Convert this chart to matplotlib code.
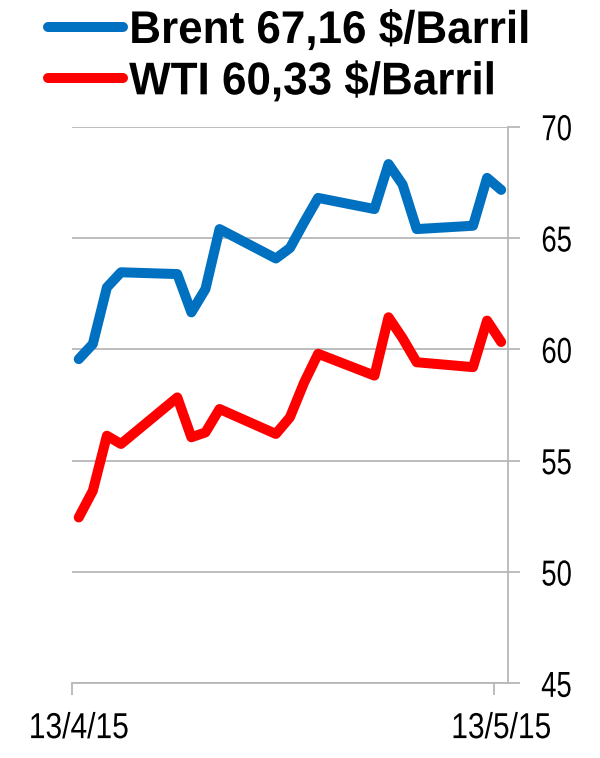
import numpy as np
import matplotlib
matplotlib.use('Agg')
import matplotlib.pyplot as plt
import matplotlib.dates as mdates
from matplotlib import patheffects
from matplotlib.transforms import Affine2D

# daily closes, 13/4/15 .. 13/5/15 (only the days that show as vertices)
dates = ['2015-04-13', '2015-04-14', '2015-04-15', '2015-04-16', '2015-04-20',
         '2015-04-21', '2015-04-22', '2015-04-23', '2015-04-27', '2015-04-28',
         '2015-04-29', '2015-04-30', '2015-05-04', '2015-05-05', '2015-05-06',
         '2015-05-07', '2015-05-11', '2015-05-12', '2015-05-13']
brent = [59.56, 60.24, 62.78, 63.46, 63.38, 61.66, 62.71, 65.40, 64.08, 64.55,
         65.70, 66.80, 66.30, 68.32, 67.40, 65.40, 65.55, 67.70, 67.16]
wti = [52.45, 53.65, 56.12, 55.75, 57.84, 56.05, 56.27, 57.32, 56.20, 56.95,
       58.50, 59.80, 58.82, 61.44, 60.50, 59.42, 59.20, 61.29, 60.33]

labels = ['Brent 67,16 $/Barril', 'WTI 60,33 $/Barril']
colors = ['#0070C0', '#FF0000']
yticks = [45, 50, 55, 60, 65, 70]
xtick_dates = ['2015-04-13', '2015-05-13']
xtick_labels = ['13/4/15', '13/5/15']

grey = '#b8b8b8'


class Squeeze(patheffects.AbstractPathEffect):
    """Narrow the text horizontally (the original uses a condensed face)."""

    def __init__(self, sx, anchor='center'):
        super().__init__()
        self.sx = sx
        self.anchor = anchor

    def draw_path(self, renderer, gc, tpath, affine, rgbFace=None):
        ext = tpath.get_extents(affine)
        if self.anchor == 'left':
            xa = ext.x0
        else:
            xa = 0.5 * (ext.x0 + ext.x1)
        aff = affine + Affine2D().translate(-xa, 0).scale(self.sx, 1).translate(xa, 0)
        renderer.draw_path(gc, tpath, aff, rgbFace)


x = mdates.datestr2num(dates) + 0.5   # points sit between day ticks
x0 = mdates.datestr2num('2015-04-13')
x1 = mdates.datestr2num('2015-05-14')

fig = plt.figure(figsize=(6, 7.58), dpi=100)
ax = fig.add_axes([0.1195, 0.0985, 0.847 - 0.1195, 0.8329 - 0.0985])

for series, lab, col in zip([brent, wti], labels, colors):
    ax.plot(x, series, color=col, lw=7.2, label=lab,
            solid_joinstyle='round', solid_capstyle='round')

ax.set_xlim(x0, x1)
ax.set_ylim(45, 70)

ax.yaxis.tick_right()
ax.set_yticks(yticks)
ax.set_yticklabels([str(v) for v in yticks], fontfamily='Liberation Sans', fontsize=26)
ax.yaxis.grid(True, color=grey, lw=1.3)
ax.set_axisbelow(True)

major = mdates.datestr2num(xtick_dates)
ax.set_xticks(major)
ax.set_xticklabels([])
ax.set_xticks(major + 0.5, minor=True)
ax.set_xticklabels(xtick_labels, minor=True, fontfamily='Liberation Sans', fontsize=26)

ax.tick_params(axis='y', direction='out', length=8.6, width=1.3, color=grey, pad=15)
ax.tick_params(axis='x', which='major', direction='out', length=8.6, width=1.3, color=grey)
ax.tick_params(axis='x', which='minor', length=0, pad=20)

for t in ax.get_yticklabels():
    t.set_path_effects([Squeeze(0.76, 'left')])
for t in ax.get_xticklabels(minor=True):
    t.set_path_effects([Squeeze(0.83)])

for side in ['top', 'left']:
    ax.spines[side].set_visible(False)
for side in ['right', 'bottom']:
    ax.spines[side].set_color(grey)
    ax.spines[side].set_linewidth(1.3)

leg = ax.legend(loc='upper left', bbox_to_anchor=(48 / 600, 1 - 9 / 758),
                bbox_transform=fig.transFigure, frameon=False,
                prop={'family': 'Liberation Sans', 'weight': 'bold', 'size': 33},
                handlelength=1.64, handletextpad=0.13, labelspacing=0.16,
                borderpad=0, borderaxespad=0)
for h in leg.legend_handles:
    h.set_linewidth(7.2)
    h.set_solid_capstyle('round')
for t in leg.get_texts():
    t.set_path_effects([Squeeze(0.96, 'left')])

fig.savefig('out.png', dpi=100)
